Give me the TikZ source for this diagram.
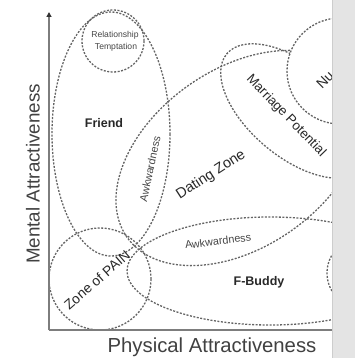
\documentclass[tikz,border=0pt]{standalone}
\usepackage{fontspec}
\setmainfont{Liberation Sans}
\usetikzlibrary{arrows.meta}
\definecolor{zonegray}{RGB}{100,100,100}
\definecolor{axisgray}{RGB}{125,125,125}
\definecolor{labelgray}{RGB}{40,40,40}
\definecolor{axistext}{RGB}{65,65,65}
\definecolor{smallgray}{RGB}{70,70,70}
\definecolor{stripgray}{RGB}{228,228,228}
\definecolor{stripline}{RGB}{205,205,205}
\begin{document}
\begin{tikzpicture}[x=1pt,y=-1pt,
  zone/.style={draw=zonegray, line width=1.3pt, dash pattern=on 2pt off 1.5pt},
  axisline/.style={draw=axisgray, line width=1.6pt},
  lbl/.style={inner sep=0pt, text=labelgray},
  boldlbl/.style={inner sep=0pt, text=labelgray, font=\bfseries\fontsize{12.5}{14}\selectfont},
  awk/.style={inner sep=0pt, text=smallgray, font=\fontsize{10.8}{12}\selectfont},
  tinylbl/.style={inner sep=0pt, text=smallgray, font=\fontsize{8.6}{10}\selectfont},
  axislabel/.style={inner sep=0pt, text=axistext}]
\useasboundingbox (0,0) rectangle (355,358);
\clip (0,0) rectangle (355,358);
\fill[white] (0,0) rectangle (355,358);

% zones
\draw[zone] (111,134) ellipse [x radius=59, y radius=122];
\draw[zone] (113,41) circle [radius=31];
\draw[zone] (100,279) circle [radius=51];
\draw[zone, rotate around={35:(240,158)}] (240,158) ellipse [x radius=138, y radius=89];
\draw[zone, rotate around={-40:(295,111)}] (295,111) ellipse [x radius=89, y radius=46];
\draw[zone] (270,271) ellipse [x radius=143, y radius=54];
\draw[zone] (362,273) circle [radius=35];
\draw[zone, fill=white] (340,71) circle [radius=53];

% labels
\node[tinylbl] (rel) at (115,35) {Relationship};
\node[tinylbl] (tempt) at (116,47) {Temptation};
\node[boldlbl] (friend) at (104,123) {Friend};
\node[awk, rotate=78] (awkv) at (150,169) {Awkwardness};
\node[lbl, font=\fontsize{14.5}{16}\selectfont, rotate=33] (dating) at (211,175) {Dating Zone};
\node[lbl, font=\fontsize{13.3}{15}\selectfont, rotate=-46] (marriage) at (286,116) {Marriage Potential};
\node[lbl, font=\fontsize{14}{16}\selectfont, rotate=45] (nu) at (325,80) {Nu};
\node[awk, rotate=7] (awkh) at (218,241) {Awkwardness};
\node[lbl, font=\fontsize{13.8}{16}\selectfont, rotate=41] (pain) at (97,280) {Zone of PAIN};
\node[boldlbl] (fbuddy) at (259,282) {F-Buddy};

% axes
\coordinate (origin) at (49,330);
\coordinate (ytop) at (49,12);
\coordinate (xend) at (332,330);
\draw[axisline, -{Triangle[width=5pt,length=5pt,color=black!80]}] (origin) -- (ytop);
\draw[axisline] (origin) -- (xend);
\node[axislabel, font=\fontsize{18.8}{20}\selectfont, rotate=90] (ylab) at (33,174) {Mental Attractiveness};
\node[axislabel, font=\fontsize{20.3}{22}\selectfont] (xlab) at (212,347) {Physical Attractiveness};

% right grey strip
\fill[stripgray] (332,0) rectangle (355,358);
\draw[stripline, line width=1.2pt] (332.6,0) -- (332.6,358);
\end{tikzpicture}
\end{document}
